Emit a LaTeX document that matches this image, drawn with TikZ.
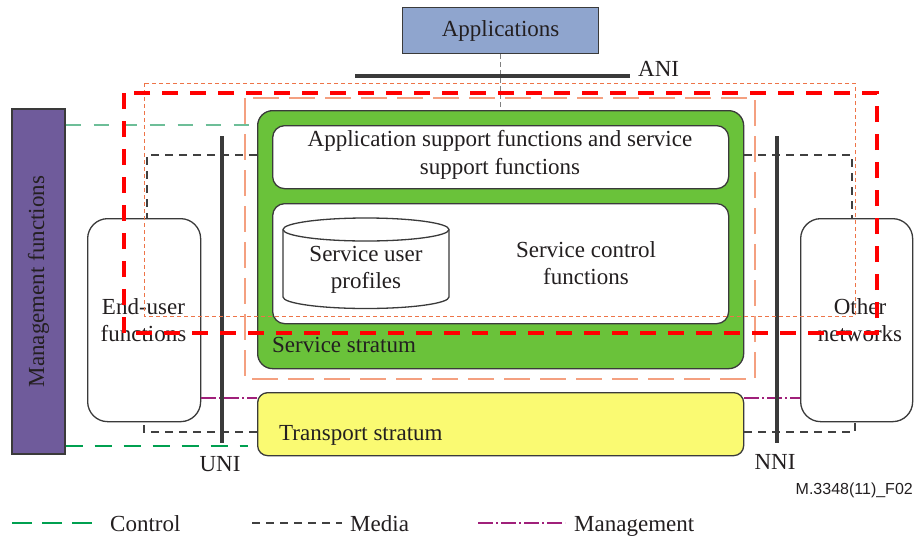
\documentclass[tikz,border=0pt]{standalone}
\usepackage{fontspec}
\setmainfont{Liberation Serif}
\newfontfamily\sansfnt{Liberation Sans}
\definecolor{txt}{HTML}{231F20}
\definecolor{bord}{HTML}{3A3A3A}
\definecolor{appblue}{HTML}{8FA5CE}
\definecolor{mgmtpurple}{HTML}{6F5B9B}
\definecolor{srvgreen}{HTML}{6AC23A}
\definecolor{trnyellow}{HTML}{FAFA72}
\definecolor{redd}{HTML}{FF0000}
\definecolor{orthin}{HTML}{EE7448}
\definecolor{orlong}{HTML}{F4A080}
\definecolor{ctrlteal}{HTML}{6DBE98}
\definecolor{ctrlgreen}{HTML}{00A050}
\definecolor{mgmag}{HTML}{A0207A}
\definecolor{medgrey}{HTML}{404040}
\tikzset{
  boxnode/.style={draw=bord, line width=1.3pt, inner sep=0pt, anchor=north west},
  plaintext/.style={inner sep=0pt, text=txt},
  bar/.style={line width=4pt, draw=bord},
  ctrlA/.style={draw=ctrlteal, line width=1.2pt, dash pattern=on 15pt off 13pt},
  ctrlB/.style={draw=ctrlgreen, line width=1.2pt, dash pattern=on 17pt off 12pt},
  medialine/.style={draw=medgrey, line width=1.2pt, dash pattern=on 8pt off 6pt},
  mgmtline/.style={draw=mgmag, line width=1.2pt, dash pattern=on 15pt off 3pt on 2pt off 3pt},
  appline/.style={draw=gray, line width=1.2pt, dash pattern=on 5pt off 3pt},
  redbox/.style={draw=redd, line width=4pt, dash pattern=on 16pt off 12pt},
  thinbox/.style={draw=orthin, line width=1pt, dash pattern=on 4pt off 3pt},
  longbox/.style={draw=orlong, line width=1.5pt, dash pattern=on 26pt off 10pt},
}
\begin{document}
\begin{tikzpicture}[x=1pt,y=-1pt, font=\fontsize{23}{27.5}\selectfont, text=txt]
\useasboundingbox (0,0) rectangle (917,538);

% coordinates for connectors
\coordinate (cU) at (0,125);
\coordinate (cL) at (248,446);
\coordinate (mUL) at (147,155);
\coordinate (mUR) at (852,155);
\coordinate (mLL) at (144,432);
\coordinate (mLR) at (855,432);
\coordinate (gL) at (0,398);
\coordinate (aniL) at (355,76);
\coordinate (aniR) at (630,76);
\coordinate (uniT) at (222,136);
\coordinate (uniB) at (222,443);
\coordinate (nniT) at (777,136);
\coordinate (nniB) at (777,443);

% boxes
\node[boxnode, fill=appblue, minimum width=196pt, minimum height=46pt] (app) at (402,7) {};
\node[plaintext] (apptext) at (app.center) {Applications};

\node[draw=bord, line width=1.3pt, fill=mgmtpurple, minimum width=345pt, minimum height=53pt, rotate=90, inner sep=0pt] (mgmt) at (38.5,281.5) {Management functions};

\node[boxnode, fill=srvgreen, rounded corners=15pt, minimum width=486pt, minimum height=258pt] (green) at (257,110) {};
\node[boxnode, fill=white, rounded corners=12pt, minimum width=456pt, minimum height=63pt] (asf) at (272,125) {};
\node[plaintext, align=center] (asftext) at (500,155) {Application support functions and service\\support functions};
\node[boxnode, fill=white, rounded corners=12pt, minimum width=456pt, minimum height=120pt] (scf) at (272,203) {};
\node[plaintext, align=center] (scftext) at (586,263) {Service control\\functions};
\node[plaintext, anchor=west] (sstext) at (272,345) {Service stratum};

% cylinder (radii are absolute: positive sin = up on the page)
\filldraw[draw=bord, line width=1.3pt, fill=white] (283,229.5) -- (283,297) arc[start angle=180, end angle=360, x radius=83pt, y radius=11.5pt] -- (449,229.5) arc[start angle=0, end angle=180, x radius=83pt, y radius=11.5pt] -- cycle;
\draw[draw=bord, line width=1.3pt] (283,229.5) arc[start angle=180, end angle=360, x radius=83pt, y radius=11.5pt];
\node[plaintext, align=center] (cyltext) at (366,270) {Service user\\profiles};

\node[boxnode, fill=trnyellow, rounded corners=10pt, minimum width=486pt, minimum height=63pt] (ts) at (257,392) {};
\node[plaintext, anchor=west] (tstext) at (279,435) {Transport stratum};

\node[boxnode, fill=white, rounded corners=20pt, minimum width=113pt, minimum height=203pt] (eu) at (87,218) {};
\node[plaintext, align=center] (eutext) at (143.5,320) {End-user\\functions};
\node[boxnode, fill=white, rounded corners=20pt, minimum width=112pt, minimum height=203pt] (on) at (800,218) {};
\node[plaintext, align=center] (ontext) at (860,320) {Other\\networks};

% connectors
\draw[ctrlA] (mgmt.south |- cU) -- (green.west |- cU);
\draw[ctrlB] (mgmt.south |- cL) -- (cL);
\draw[medialine] (green.west |- mUL) -- (mUL) -- (mUL |- eu.north);
\draw[medialine] (green.east |- mUR) -- (mUR) -- (mUR |- on.north);
\draw[medialine] (ts.west |- mLL) -- (mLL) -- (mLL |- eu.south);
\draw[medialine] (ts.east |- mLR) -- (mLR) -- (mLR |- on.south);
\draw[mgmtline] (eu.east |- gL) -- (ts.west |- gL);
\draw[mgmtline] (ts.east |- gL) -- (on.west |- gL);
\draw[appline] (app.south) -- (green.north -| app.south);

% interface bars
\draw[bar] (aniL) -- (aniR);
\node[plaintext, anchor=west] (ani) at (638,69) {ANI};
\draw[bar] (uniT) -- (uniB);
\node[plaintext] (uni) at (220,464) {UNI};
\draw[bar] (nniT) -- (nniB);
\node[plaintext] (nni) at (775,462) {NNI};

% grouping rectangles
\draw[thinbox] (144,83) rectangle (855,316);
\draw[longbox] (245,98) rectangle (755,379);
\draw[redbox] (124,93) rectangle (877,333);

% figure id
\node[plaintext, anchor=east, font=\sansfnt\fontsize{16}{18}\selectfont] (figid) at (913,490) {M.3348(11)\_F02};

% legend
\coordinate (l1a) at (12,523); \coordinate (l1b) at (99,523);
\draw[ctrlB, dash pattern=on 20pt off 10pt] (l1a) -- (l1b);
\node[plaintext, anchor=base west] (lctrl) at (110,531) {Control};
\coordinate (l2a) at (252,523); \coordinate (l2b) at (342,523);
\draw[medialine] (l2a) -- (l2b);
\node[plaintext, anchor=base west] (lmedia) at (350,531) {Media};
\coordinate (l3a) at (478,523); \coordinate (l3b) at (565,523);
\draw[mgmtline] (l3a) -- (l3b);
\node[plaintext, anchor=base west] (lmgmt) at (574,531) {Management};
\end{tikzpicture}
\end{document}
